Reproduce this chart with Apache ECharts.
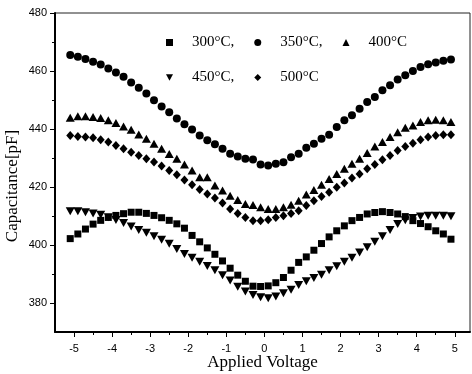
<!DOCTYPE html>
<html>
<head>
<meta charset="utf-8">
<script src="https://cdn.jsdelivr.net/npm/echarts@6/dist/echarts.min.js"></script>
<style>
  html, body { margin: 0; padding: 0; background: #fff; }
  #chart { width: 472px; height: 374px; }
</style>
</head>
<body>
<div id="chart"></div>
<script>
// applied voltage (V), one point every 0.2 V
const voltage = [-5.1, -4.9, -4.7, -4.5, -4.3, -4.1, -3.9, -3.7, -3.5, -3.3, -3.1, -2.9, -2.7, -2.5, -2.3, -2.1, -1.9, -1.7, -1.5, -1.3, -1.1, -0.9, -0.7, -0.5, -0.3, -0.1,
  0.1, 0.3, 0.5, 0.7, 0.9, 1.1, 1.3, 1.5, 1.7, 1.9, 2.1, 2.3, 2.5, 2.7, 2.9, 3.1, 3.3, 3.5, 3.7, 3.9, 4.1, 4.3, 4.5, 4.7, 4.9];

// capacitance (pF) per annealing temperature
const cap300 = [402.2, 403.8, 405.5, 407.2, 408.5, 409.5, 410.2, 410.8, 411.3, 411.3, 410.9, 410.2, 409.4, 408.5, 407.3, 405.8, 403.3, 401.1, 399.0, 396.8, 394.5, 392.0, 389.6, 387.5, 385.8, 385.7,
  385.9, 387.0, 388.8, 391.3, 394.0, 395.9, 398.2, 400.5, 402.8, 404.9, 406.6, 408.4, 409.5, 410.7, 411.2, 411.5, 411.2, 410.7, 409.8, 408.4, 407.4, 406.3, 404.9, 403.8, 402.0];
const cap350 = [465.5, 464.9, 464.1, 463.2, 462.2, 460.9, 459.5, 458.0, 456.0, 454.2, 452.2, 449.9, 447.8, 445.8, 443.6, 441.6, 439.8, 437.8, 436.1, 434.7, 433.2, 431.5, 430.5, 429.7, 429.5, 427.8,
  427.4, 428.0, 428.5, 430.3, 431.5, 433.5, 434.9, 436.6, 438.0, 440.7, 443.0, 444.7, 447.0, 449.3, 451.0, 453.4, 455.1, 457.1, 458.5, 460.0, 461.4, 462.3, 462.9, 463.5, 464.0];
const cap400 = [443.9, 444.4, 444.4, 444.1, 443.8, 443.0, 442.1, 440.9, 439.7, 438.1, 436.6, 434.9, 433.2, 431.4, 429.7, 427.8, 425.7, 423.4, 423.4, 420.5, 418.8, 417.0, 415.5, 414.1, 413.8, 413.0,
  412.4, 412.4, 413.0, 413.9, 415.3, 417.4, 419.0, 420.8, 422.8, 424.5, 426.3, 428.0, 429.7, 431.7, 434.0, 435.5, 437.2, 438.9, 440.4, 441.2, 442.4, 443.0, 443.2, 443.0, 442.4];
const cap450 = [411.6, 411.6, 411.3, 410.9, 410.4, 409.6, 408.6, 407.6, 406.4, 405.2, 404.2, 403.0, 401.8, 400.4, 398.6, 396.9, 395.6, 394.2, 392.8, 391.3, 389.6, 387.8, 385.6, 384.0, 382.8, 382.0,
  381.6, 382.2, 383.4, 384.6, 386.2, 387.5, 388.6, 389.7, 391.3, 392.7, 394.2, 395.6, 397.4, 399.2, 401.1, 403.0, 405.2, 407.2, 408.5, 409.3, 409.8, 410.1, 410.1, 410.1, 409.9];
const cap500 = [437.8, 437.4, 437.2, 437.0, 436.3, 435.5, 434.3, 433.2, 432.0, 430.9, 429.7, 428.6, 427.2, 425.7, 424.2, 422.4, 420.8, 419.1, 417.6, 416.2, 414.5, 412.4, 410.9, 409.5, 408.4, 408.4,
  408.7, 409.5, 410.1, 410.9, 411.8, 413.6, 415.3, 416.7, 418.2, 419.9, 421.4, 423.1, 424.5, 426.3, 427.8, 429.4, 430.9, 432.6, 434.0, 435.1, 436.3, 437.2, 437.8, 438.0, 438.0];

const seriesNames = ["300°C", "350°C", "400°C", "450°C", "500°C"];
const legendLabels = ["300°C,", "350°C,", "400°C", "450°C,", "500°C"];

// tick positions
const xMajorTicks = [-5, -4, -3, -2, -1, 0, 1, 2, 3, 4, 5];
const xMinorTicks = [-4.5, -3.5, -2.5, -1.5, -0.5, 0.5, 1.5, 2.5, 3.5, 4.5];
const yMajorTicks = [380, 400, 420, 440, 460, 480];
const yMinorTicks = [390, 410, 430, 450, 470];

const chart = echarts.init(document.getElementById("chart"));

const serif = "Liberation Serif";
const pairs = (values) => voltage.map((v, i) => [v, values[i]]);
const downTriangle = "path://M0,0L10,0L5,9Z";

const labelFor = (name) => legendLabels[seriesNames.indexOf(name)];

const legendBase = {
  orient: "horizontal",
  left: 161,
  itemWidth: 7,
  itemHeight: 7,
  itemGap: 20,
  formatter: labelFor,
  textStyle: {
    fontFamily: serif,
    fontSize: 15,
    color: "#000",
    padding: [0, 0, 0, 14],
  },
};

const xRange = { min: -5.5, max: 5.4 };
const yRange = { min: 370, max: 480 };

const option = {
  backgroundColor: "#fff",
  animation: false,
  grid: {
    left: 55,
    right: 2,
    top: 13,
    bottom: 42,
    outerBoundsMode: "none",
    show: true,
    borderColor: "#222",
    borderWidth: 1,
  },
  legend: [
    { ...legendBase, top: 30, data: seriesNames.slice(0, 3) },
    { ...legendBase, top: 65, data: seriesNames.slice(3) },
  ],
  xAxis: [
    {
      type: "value",
      ...xRange,
      name: "Applied Voltage",
      nameLocation: "middle",
      nameGap: 22,
      nameMoveOverlap: false,
      nameTextStyle: { fontFamily: serif, fontSize: 17, color: "#000" },
      axisLine: { show: true, onZero: false, lineStyle: { color: "#000", width: 2 } },
      axisTick: { show: true, inside: false, length: 5, customValues: xMajorTicks, lineStyle: { color: "#000" } },
      axisLabel: {
        customValues: xMajorTicks,
        margin: 11,
        fontFamily: "Liberation Sans",
        fontSize: 11,
        color: "#000",
      },
      splitLine: { show: false },
    },
    {
      type: "value",
      ...xRange,
      position: "bottom",
      axisLine: { show: false, onZero: false },
      axisTick: { show: true, length: 3, customValues: xMinorTicks, lineStyle: { color: "#000" } },
      axisLabel: { show: false },
      splitLine: { show: false },
    },
  ],
  yAxis: [
    {
      type: "value",
      ...yRange,
      name: "Capacitance[pF]",
      nameLocation: "middle",
      nameGap: 34,
      nameMoveOverlap: false,
      nameTextStyle: { fontFamily: serif, fontSize: 17, color: "#000", padding: [0, 27, 0, 0] },
      axisLine: { show: true, onZero: false, lineStyle: { color: "#000", width: 2 } },
      axisTick: { show: true, inside: false, length: 5, customValues: yMajorTicks, lineStyle: { color: "#000" } },
      axisLabel: {
        customValues: yMajorTicks,
        margin: 8,
        fontFamily: "Liberation Sans",
        fontSize: 11,
        color: "#000",
      },
      splitLine: { show: false },
    },
    {
      type: "value",
      ...yRange,
      position: "left",
      axisLine: { show: false, onZero: false },
      axisTick: { show: true, length: 3, customValues: yMinorTicks, lineStyle: { color: "#000" } },
      axisLabel: { show: false },
      splitLine: { show: false },
    },
  ],
  series: [
    { name: seriesNames[0], type: "scatter", symbol: "rect", symbolSize: 7, data: pairs(cap300) },
    { name: seriesNames[1], type: "scatter", symbol: "circle", symbolSize: 8, data: pairs(cap350) },
    { name: seriesNames[2], type: "scatter", symbol: "triangle", symbolSize: [9, 8], data: pairs(cap400) },
    { name: seriesNames[3], type: "scatter", symbol: downTriangle, symbolSize: [9, 8], data: pairs(cap450) },
    { name: seriesNames[4], type: "scatter", symbol: "diamond", symbolSize: [8, 9], data: pairs(cap500) },
  ].map((s) => ({ ...s, itemStyle: { color: "#000", opacity: 1 }, emphasis: { disabled: true } })),
};

chart.setOption(option);
</script>
</body>
</html>
